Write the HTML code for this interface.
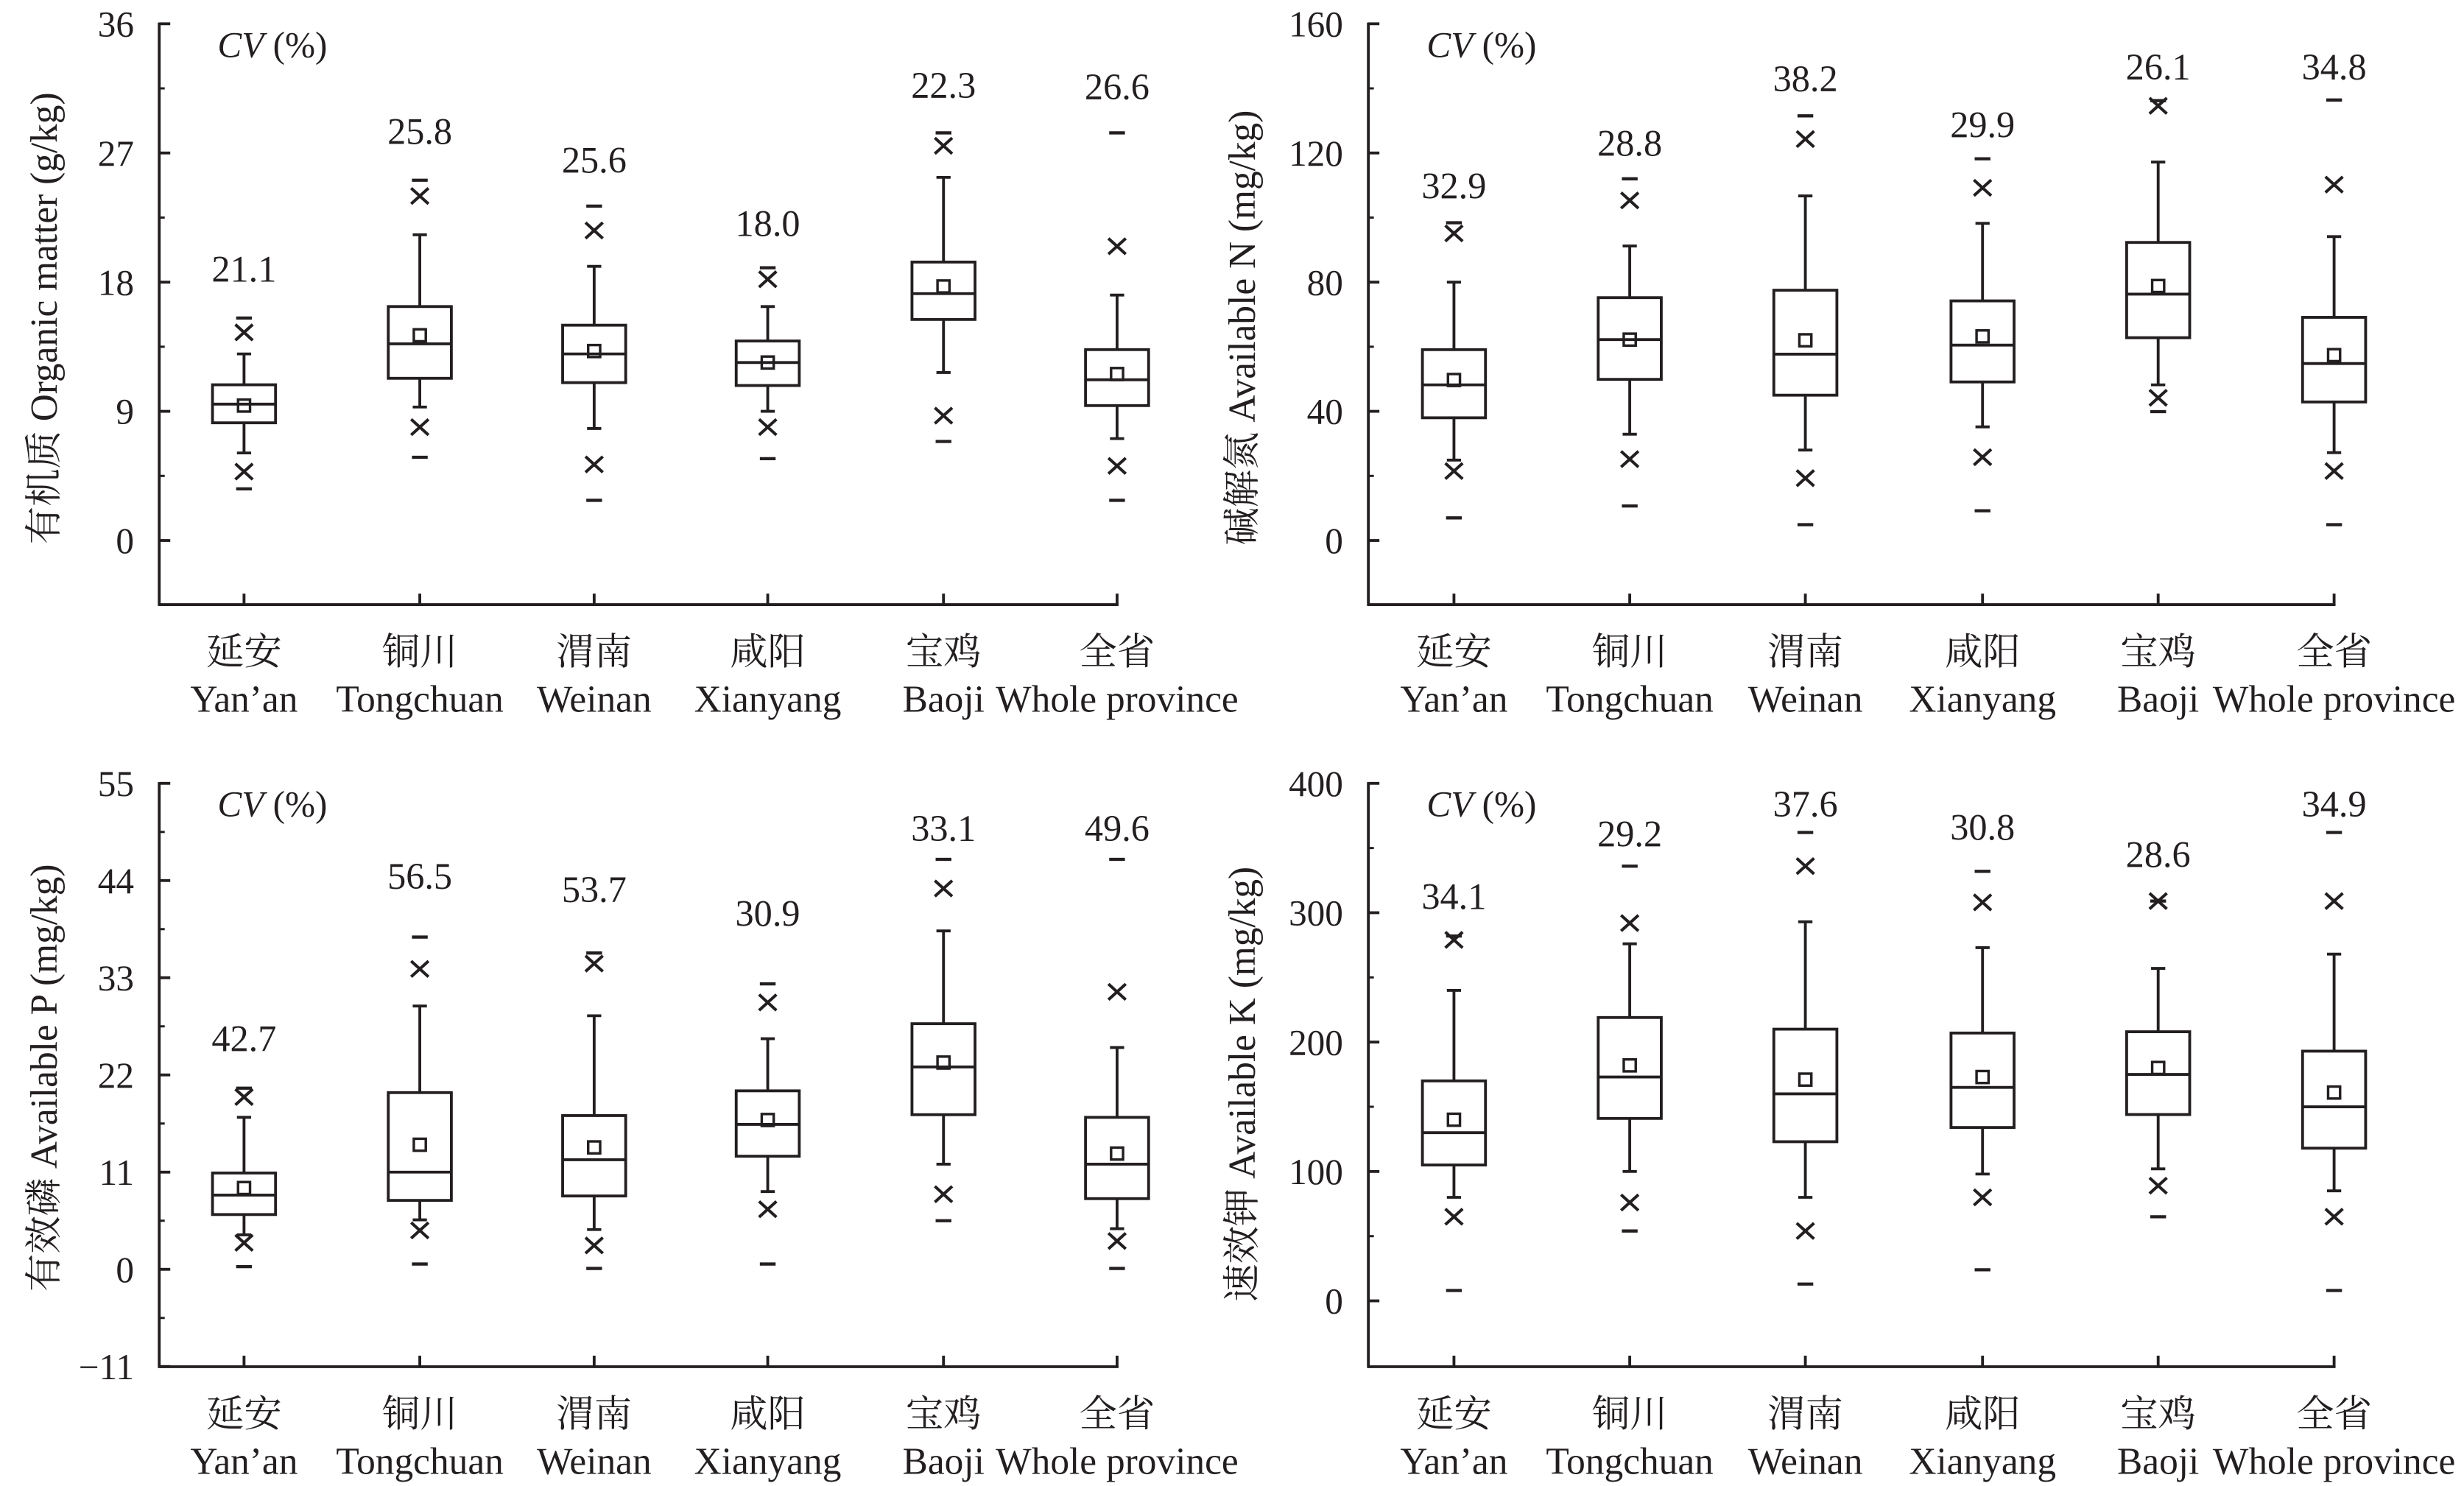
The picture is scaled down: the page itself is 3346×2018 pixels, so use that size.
<!DOCTYPE html>
<html><head><meta charset="utf-8"><style>
html,body{margin:0;padding:0;background:#fff;}
svg{display:block;}
text{font-family:"Liberation Serif","Noto Serif CJK SC",serif;fill:#231f20;}
</style></head><body>
<svg id="chart" width="3346" height="2018" viewBox="0 0 1563 943" preserveAspectRatio="none" xmlns="http://www.w3.org/2000/svg"></svg>
<script>
const categoriesCn = ["延安","铜川","渭南","咸阳","宝鸡","全省"];
const categoriesEn = ["Yan\u2019an","Tongchuan","Weinan","Xianyang","Baoji","Whole province"];

// Organic matter
const omMax=[15.5,25.1,23.3,19.0,28.4,28.4];
const omX99=[14.5,24.0,21.6,18.2,27.5,20.5];
const omWhiskerHigh=[13.0,21.3,19.1,16.3,25.3,17.1];
const omQ3=[10.85,16.3,15.0,13.9,19.4,13.3];
const omMedian=[9.5,13.7,13.0,12.4,17.2,11.2];
const omMean=[9.4,14.3,13.2,12.4,17.7,11.6];
const omQ1=[8.2,11.3,11.0,10.8,15.4,9.4];
const omWhiskerLow=[6.1,9.3,7.8,9.0,11.7,7.1];
const omX1=[4.8,7.9,5.3,7.9,8.7,5.2];
const omMin=[3.6,5.8,2.8,5.7,6.9,2.8];
const omCV=["21.1","25.8","25.6","18.0","22.3","26.6"];
const omCVPos=[18.9,28.5,26.5,22.1,31.7,31.6];
const omTicks=[0,9,18,27,36];

// Available N
const nMax=[98.4,112,131.5,118.2,136.2,136.4];
const nX99=[95.1,105.3,124.3,109.2,134.6,110.2];
const nWhiskerHigh=[80,91.2,106.7,98.2,117.2,94.1];
const nQ3=[59.1,75.2,77.5,74.2,92.3,69.1];
const nMedian=[48.2,62.2,57.7,60.5,76.3,54.8];
const nMean=[49.7,62.2,62,63.2,78.8,57.4];
const nQ1=[38.0,49.9,45,49.1,62.8,42.9];
const nWhiskerLow=[24.9,32.9,28,35.2,48.2,27.2];
const nX1=[21.5,25.2,19.3,25.8,44.2,21.5];
const nMin=[7.0,10.7,4.9,9.2,39.9,4.9];
const nCV=["32.9","28.8","38.2","29.9","26.1","34.8"];
const nCVPos=[109.8,123,143,128.8,146.6,146.6];
const nTicks=[0,40,80,120,160];

// Available P
const pMax=[20.5,37.6,35.8,32.3,46.4,46.4];
const pX99=[19.5,34.0,34.6,30.2,43.1,31.4];
const pWhiskerHigh=[17.2,29.8,28.7,26.1,38.3,25.1];
const pQ3=[10.9,20.0,17.4,20.2,27.8,17.2];
const pMedian=[8.4,11.0,12.4,16.4,22.9,11.9];
const pMean=[9.2,14.1,13.8,16.9,23.4,13.1];
const pQ1=[6.2,7.8,8.3,12.8,17.5,8.0];
const pWhiskerLow=[3.9,5.6,4.5,8.8,11.9,4.6];
const pX1=[3.0,4.4,2.7,6.8,8.5,3.2];
const pMin=[0.3,0.6,0.1,0.6,5.5,0.1];
const pCV=["42.7","56.5","53.7","30.9","33.1","49.6"];
const pCVPos=[26.1,44.5,43.0,40.3,49.9,49.9];
const pTicks=[-11,0,11,22,33,44,55];

// Available K
const kMax=[282,336,362,332,309,362];
const kX99=[279,292,336,308,309,309];
const kWhiskerHigh=[240,276,293,273,257,268];
const kQ3=[170,219,210,207,208,193];
const kMedian=[130,173,160,165,175,150];
const kMean=[140,182,171,173,180,161];
const kQ1=[105,141,123,134,144,118];
const kWhiskerLow=[80,100,80,98,102,85];
const kX1=[65,76,54,80,89,65];
const kMin=[8,54,13,24,65,8];
const kCV=["34.1","29.2","37.6","30.8","28.6","34.9"];
const kCVPos=[312.5,361,384,366,345,384];
const kTicks=[0,100,200,300,400];

const NS="http://www.w3.org/2000/svg";
const svg=document.getElementById('chart');
const STROKE="#231f20";
function mk(tag,attrs,parent){const e=document.createElementNS(NS,tag);for(const k in attrs)e.setAttribute(k,attrs[k]);(parent||svg).appendChild(e);return e;}
function line(g,x1,y1,x2,y2,w){return mk('line',{x1,y1,x2,y2,stroke:STROKE,'stroke-width':w||1.6},g);}

function drawPanel(cfg){
  const g=mk('g',{});
  
  
  const tMax=cfg.ticks[cfg.ticks.length-1];
  const y=v=>cfg.yTopPx+(tMax-v)*(cfg.yZeroPx-cfg.yTopPx)/(tMax-cfg.zeroVal);
  const xs=cfg.catX;
  const ax=cfg.axisX;
  const yAxis=line(g,ax,cfg.yTopPx-0.8,ax,cfg.bottomPx+0.8,1.8);
  
  
  const xAxis=line(g,ax,cfg.bottomPx,cfg.xEnd,cfg.bottomPx,1.8);
  
  
  cfg.ticks.forEach((t,i)=>{
    const yy=y(t);
    const tk=line(g,ax,yy,ax+7,yy,1.8);
    
    
    const lb=mk('text',{x:ax-16,y:yy+8,'font-size':23,'text-anchor':'end'},g);
    lb.textContent=(t<0?"\u2212"+Math.abs(t):String(t));
    
    
    if(i<cfg.ticks.length-1){
      const ym=y((t+cfg.ticks[i+1])/2);
      const mt=line(g,ax,ym,ax+3.5,ym,1.4);
      
      
    }
  });
  const yt=mk('text',{x:0,y:0,'font-size':24,'text-anchor':'middle',transform:`translate(${cfg.titleX},${cfg.titleY}) rotate(-90)`},g);
  yt.textContent=cfg.title;
  
  
  const cvh=mk('text',{x:ax+37,y:cfg.yTopPx+21,'font-size':23},g);
  cvh.innerHTML='<tspan font-style="italic">CV</tspan> (%)';
  
  
  const d=cfg.data;
  xs.forEach((cx,i)=>{
    const bg=mk('g',{},g);
    
    
    line(bg,cx,cfg.bottomPx,cx,cfg.bottomPx-7,1.8);
    const bw=20, cw=4.5, dw=5;
    line(bg,cx,y(d.q3[i]),cx,y(d.wh[i]),1.8);
    line(bg,cx,y(d.q1[i]),cx,y(d.wl[i]),1.8);
    line(bg,cx-cw,y(d.wh[i]),cx+cw,y(d.wh[i]),1.8);
    line(bg,cx-cw,y(d.wl[i]),cx+cw,y(d.wl[i]),1.8);
    const r=mk('rect',{x:cx-bw,y:y(d.q3[i]),width:2*bw,height:y(d.q1[i])-y(d.q3[i]),fill:'none',stroke:STROKE,'stroke-width':1.8},bg);
    
    
    const md=line(bg,cx-bw,y(d.med[i]),cx+bw,y(d.med[i]),1.8);
    
    
    const ms=mk('rect',{x:cx-3.8,y:y(d.mean[i])-3.8,width:7.6,height:7.6,fill:'none',stroke:STROKE,'stroke-width':1.6},bg);
    
    
    [d.x99[i],d.x1[i]].forEach(v=>{
      const yy=y(v);
      const xm=mk('path',{d:`M${cx-5.5} ${yy-5}L${cx+5.5} ${yy+5}M${cx+5.5} ${yy-5}L${cx-5.5} ${yy+5}`,stroke:STROKE,'stroke-width':1.9,fill:'none'},bg);
      
      
    });
    [d.max[i],d.min[i]].forEach(v=>{
      const dl=line(bg,cx-dw,y(v),cx+dw,y(v),2);
      
      
    });
    const cv=mk('text',{x:cx,y:y(d.cvPos[i])+8,'font-size':23.5,'text-anchor':'middle'},bg);
    cv.textContent=d.cv[i];
    
    
    const c1=mk('text',{x:cx,y:cfg.bottomPx+38,'font-size':24,'text-anchor':'middle'},g);
    c1.textContent=categoriesCn[i];
    
    
    const c2=mk('text',{x:cx,y:cfg.bottomPx+68,'font-size':24,'text-anchor':'middle'},g);
    c2.textContent=categoriesEn[i];
    
    
  });
}
const leftX=[154.8,266.3,376.9,487,598.5,708.6];
const rightX=[922.3,1033.8,1145.2,1257.6,1369,1480.6];
drawPanel({name:'organic-matter-panel',axisX:101,xEnd:709.5,catX:leftX,ticks:omTicks,zeroVal:0,yTopPx:15.1,yZeroPx:343,bottomPx:383.7,title:'有机质 Organic matter (g/kg)',titleX:36,titleY:202,
 data:{max:omMax,x99:omX99,wh:omWhiskerHigh,q3:omQ3,med:omMedian,mean:omMean,q1:omQ1,wl:omWhiskerLow,x1:omX1,min:omMin,cv:omCV,cvPos:omCVPos}});
drawPanel({name:'available-n-panel',axisX:868,xEnd:1481.5,catX:rightX,ticks:nTicks,zeroVal:0,yTopPx:15.1,yZeroPx:343,bottomPx:383.7,title:'碱解氮 Available N (mg/kg)',titleX:796,titleY:208,
 data:{max:nMax,x99:nX99,wh:nWhiskerHigh,q3:nQ3,med:nMedian,mean:nMean,q1:nQ1,wl:nWhiskerLow,x1:nX1,min:nMin,cv:nCV,cvPos:nCVPos}});
drawPanel({name:'available-p-panel',axisX:101,xEnd:709.5,catX:leftX,ticks:pTicks,zeroVal:0,yTopPx:497.1,yZeroPx:805.5,bottomPx:867.3,title:'有效磷 Available P (mg/kg)',titleX:36,titleY:684,
 data:{max:pMax,x99:pX99,wh:pWhiskerHigh,q3:pQ3,med:pMedian,mean:pMean,q1:pQ1,wl:pWhiskerLow,x1:pX1,min:pMin,cv:pCV,cvPos:pCVPos}});
drawPanel({name:'available-k-panel',axisX:868,xEnd:1481.5,catX:rightX,ticks:kTicks,zeroVal:0,yTopPx:497.1,yZeroPx:825.5,bottomPx:867.3,title:'速效钾 Available K (mg/kg)',titleX:796,titleY:688,
 data:{max:kMax,x99:kX99,wh:kWhiskerHigh,q3:kQ3,med:kMedian,mean:kMean,q1:kQ1,wl:kWhiskerLow,x1:kX1,min:kMin,cv:kCV,cvPos:kCVPos}});
</script>
</body></html>
